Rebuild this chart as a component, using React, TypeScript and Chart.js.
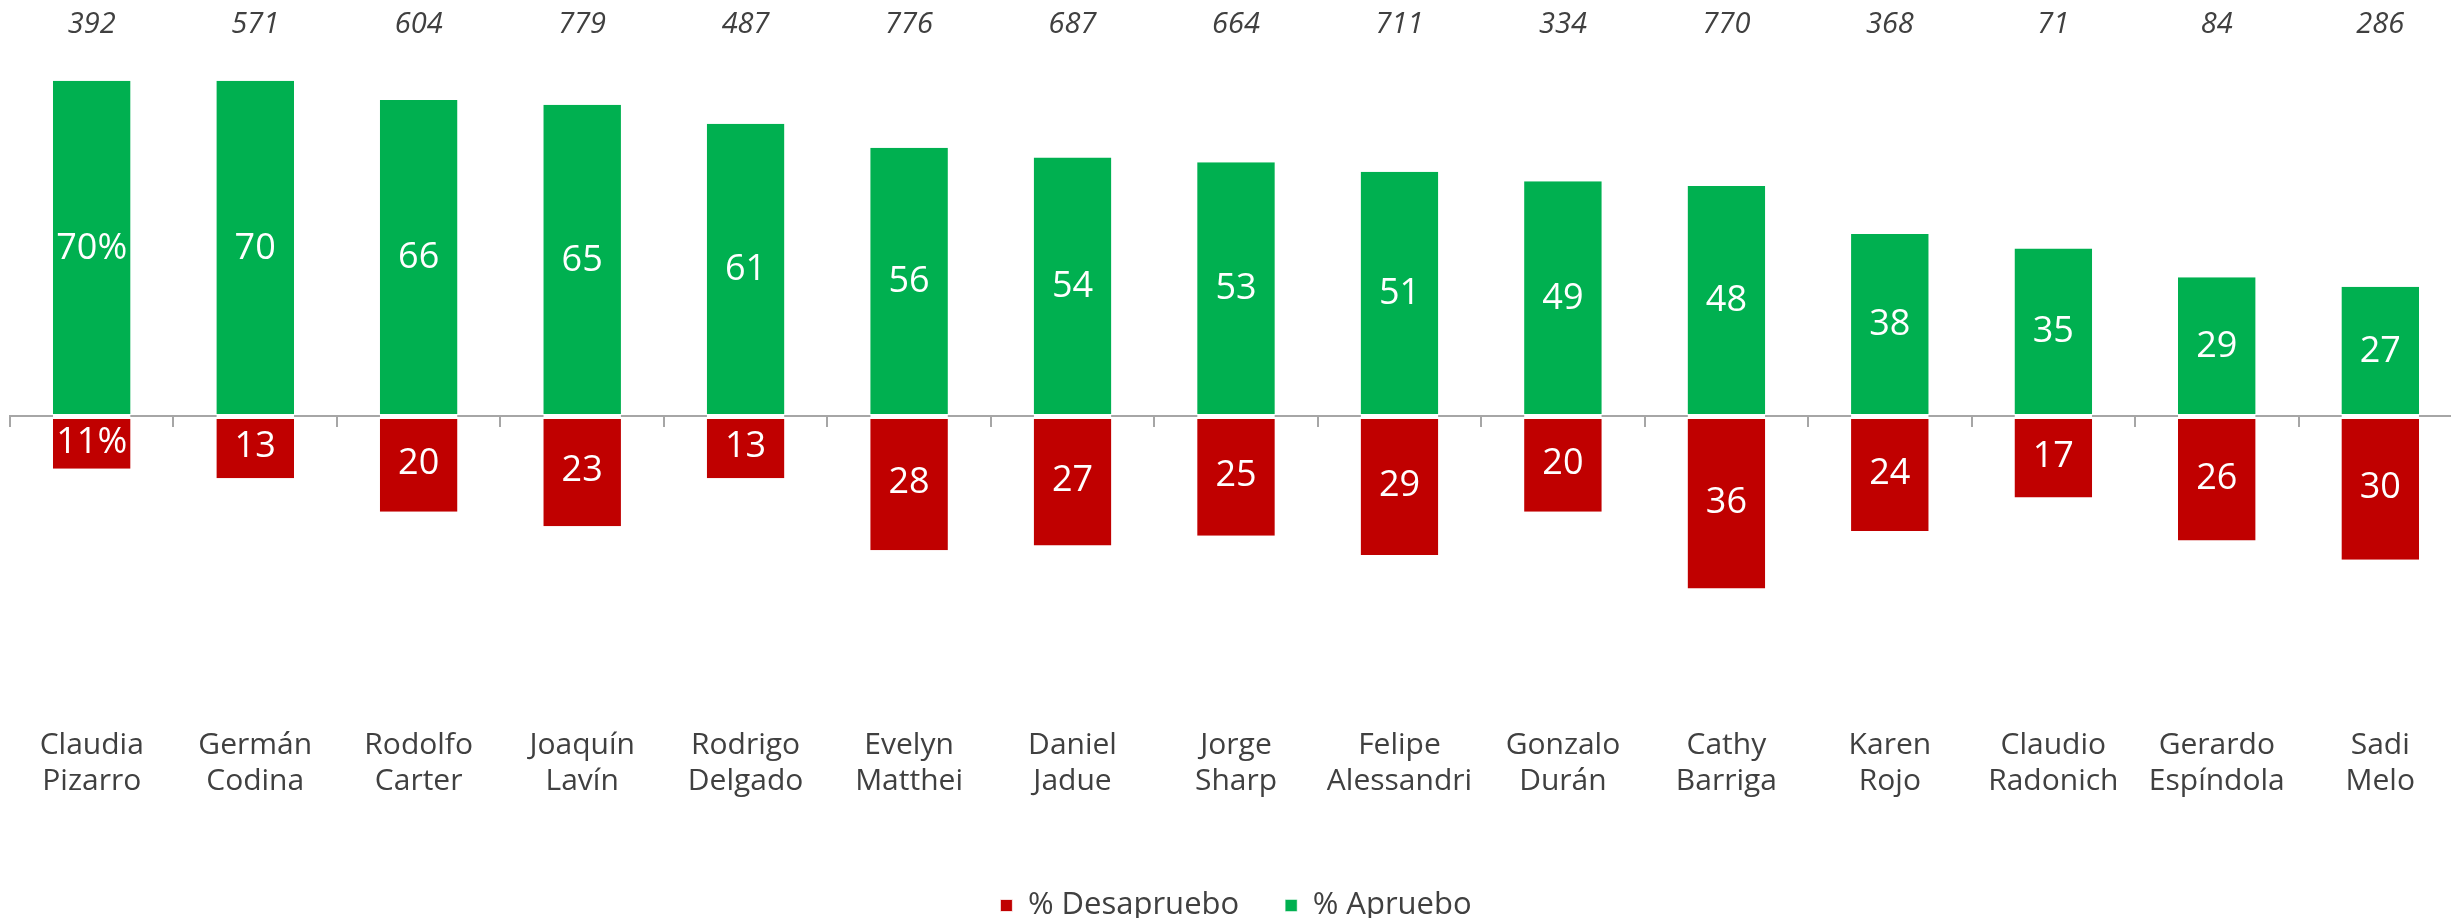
import React, { useEffect, useRef } from "react";
import { Chart, registerables } from "chart.js";

Chart.register(...registerables);

const candidates: string[][] = [
  ["Claudia", "Pizarro"],
  ["Germán", "Codina"],
  ["Rodolfo", "Carter"],
  ["Joaquín", "Lavín"],
  ["Rodrigo", "Delgado"],
  ["Evelyn", "Matthei"],
  ["Daniel", "Jadue"],
  ["Jorge", "Sharp"],
  ["Felipe", "Alessandri"],
  ["Gonzalo", "Durán"],
  ["Cathy", "Barriga"],
  ["Karen", "Rojo"],
  ["Claudio", "Radonich"],
  ["Gerardo", "Espíndola"],
  ["Sadi", "Melo"],
];
const sampleSizes: string[] = ["392", "571", "604", "779", "487", "776", "687", "664", "711", "334", "770", "368", "71", "84", "286"];
const approve: number[] = [70, 70, 66, 65, 61, 56, 54, 53, 51, 49, 48, 38, 35, 29, 27];
const disapprove: number[] = [11, 13, 20, 23, 13, 28, 27, 25, 29, 20, 36, 24, 17, 26, 30];
const seriesNames: string[] = ["% Desapruebo", "% Apruebo"];
const yMin = -65;
const yMax = 76;

const CANVAS_W = 2462;
const CANVAS_H = 931;
const PLOT_BOTTOM = 727.4;
const FONT = "'Open Sans', sans-serif";
const TEXT = "#404040";
const AXIS = "#a6a6a6";

const barLabels = {
  id: "barLabels",
  afterDatasetsDraw(chart: any) {
    const ctx = chart.ctx;
    ctx.save();
    ctx.font = `36px ${FONT}`;
    ctx.fillStyle = "#ffffff";
    ctx.textAlign = "center";
    ctx.textBaseline = "middle";
    chart.data.datasets.forEach((ds: any, di: number) => {
      const meta = chart.getDatasetMeta(di);
      meta.data.forEach((el: any, i: number) => {
        const p = el.getProps(["x", "y", "base"], true);
        const v = Math.abs(ds.data[i]);
        const txt = i === 0 ? `${v}%` : `${v}`;
        ctx.fillText(txt, p.x, (p.y + p.base) / 2);
      });
    });
    ctx.restore();
  },
};

export default function App() {
  const ref = useRef<HTMLCanvasElement | null>(null);

  useEffect(() => {
    if (!ref.current) return;
    const chart = new Chart(ref.current, {
      type: "bar",
      data: {
        labels: candidates,
        datasets: [
          {
            label: seriesNames[0],
            data: disapprove.map((v) => -v),
            backgroundColor: "#C00000",
            borderColor: "#ffffff",
            borderWidth: { top: 3, right: 0, bottom: 0, left: 0 },
            borderSkipped: false,
            barPercentage: 0.475,
            categoryPercentage: 1,
          },
          {
            label: seriesNames[1],
            data: approve,
            backgroundColor: "#00B050",
            borderColor: "#ffffff",
            borderWidth: { top: 0, right: 0, bottom: 2, left: 0 },
            borderSkipped: false,
            barPercentage: 0.475,
            categoryPercentage: 1,
          },
        ],
      },
      options: {
        animation: false,
        responsive: false,
        devicePixelRatio: 1,
        layout: { padding: { left: 10, right: 0, top: 0, bottom: 0 } },
        plugins: {
          tooltip: { enabled: false },
          legend: {
            position: "bottom",
            labels: {
              boxWidth: 12,
              boxHeight: 12,
              padding: 46,
              color: TEXT,
              font: { family: FONT, size: 31 },
            },
          },
        },
        scales: {
          x: {
            type: "category",
            position: "bottom",
            stacked: true,
            offset: true,
            grid: { display: false, drawTicks: false, offset: true },
            border: { display: false },
            ticks: {
              color: TEXT,
              font: { family: FONT, size: 30, lineHeight: 1.17 },
              padding: 1,
              autoSkip: false,
              maxRotation: 0,
              minRotation: 0,
            },
            afterFit: (s: any) => {
              const lg = s.chart.legend ? s.chart.legend.height : 0;
              s.height = s.chart.height - lg - PLOT_BOTTOM;
            },
          },
          xTop: {
            type: "category",
            position: "top",
            labels: sampleSizes,
            offset: true,
            grid: { display: false, drawTicks: false, offset: true },
            border: { display: false },
            ticks: {
              color: TEXT,
              font: { family: FONT, size: 29, style: "italic", lineHeight: 1.2 },
              padding: 10,
              autoSkip: false,
              maxRotation: 0,
              minRotation: 0,
            },
            afterFit: (s: any) => {
              s.height = 52;
            },
          },
          xZero: {
            type: "category",
            position: { y: 0 },
            labels: candidates.map((c) => c.join(" ")),
            offset: true,
            z: 1,
            grid: {
              display: true,
              offset: true,
              drawOnChartArea: false,
              drawTicks: true,
              tickLength: 10,
              color: AXIS,
              lineWidth: 2,
            },
            border: { display: true, color: AXIS, width: 2 },
            ticks: { display: false },
          },
          y: {
            type: "linear",
            display: false,
            stacked: true,
            min: yMin,
            max: yMax,
          },
        },
      } as any,
      plugins: [barLabels],
    });
    return () => chart.destroy();
  }, []);

  return (
    <div
      style={{
        position: "absolute",
        left: 0,
        top: 0,
        width: 2451,
        height: 918,
        overflow: "hidden",
        background: "#ffffff",
      }}
    >
      <canvas ref={ref} width={CANVAS_W} height={CANVAS_H} style={{ display: "block" }} />
    </div>
  );
}
